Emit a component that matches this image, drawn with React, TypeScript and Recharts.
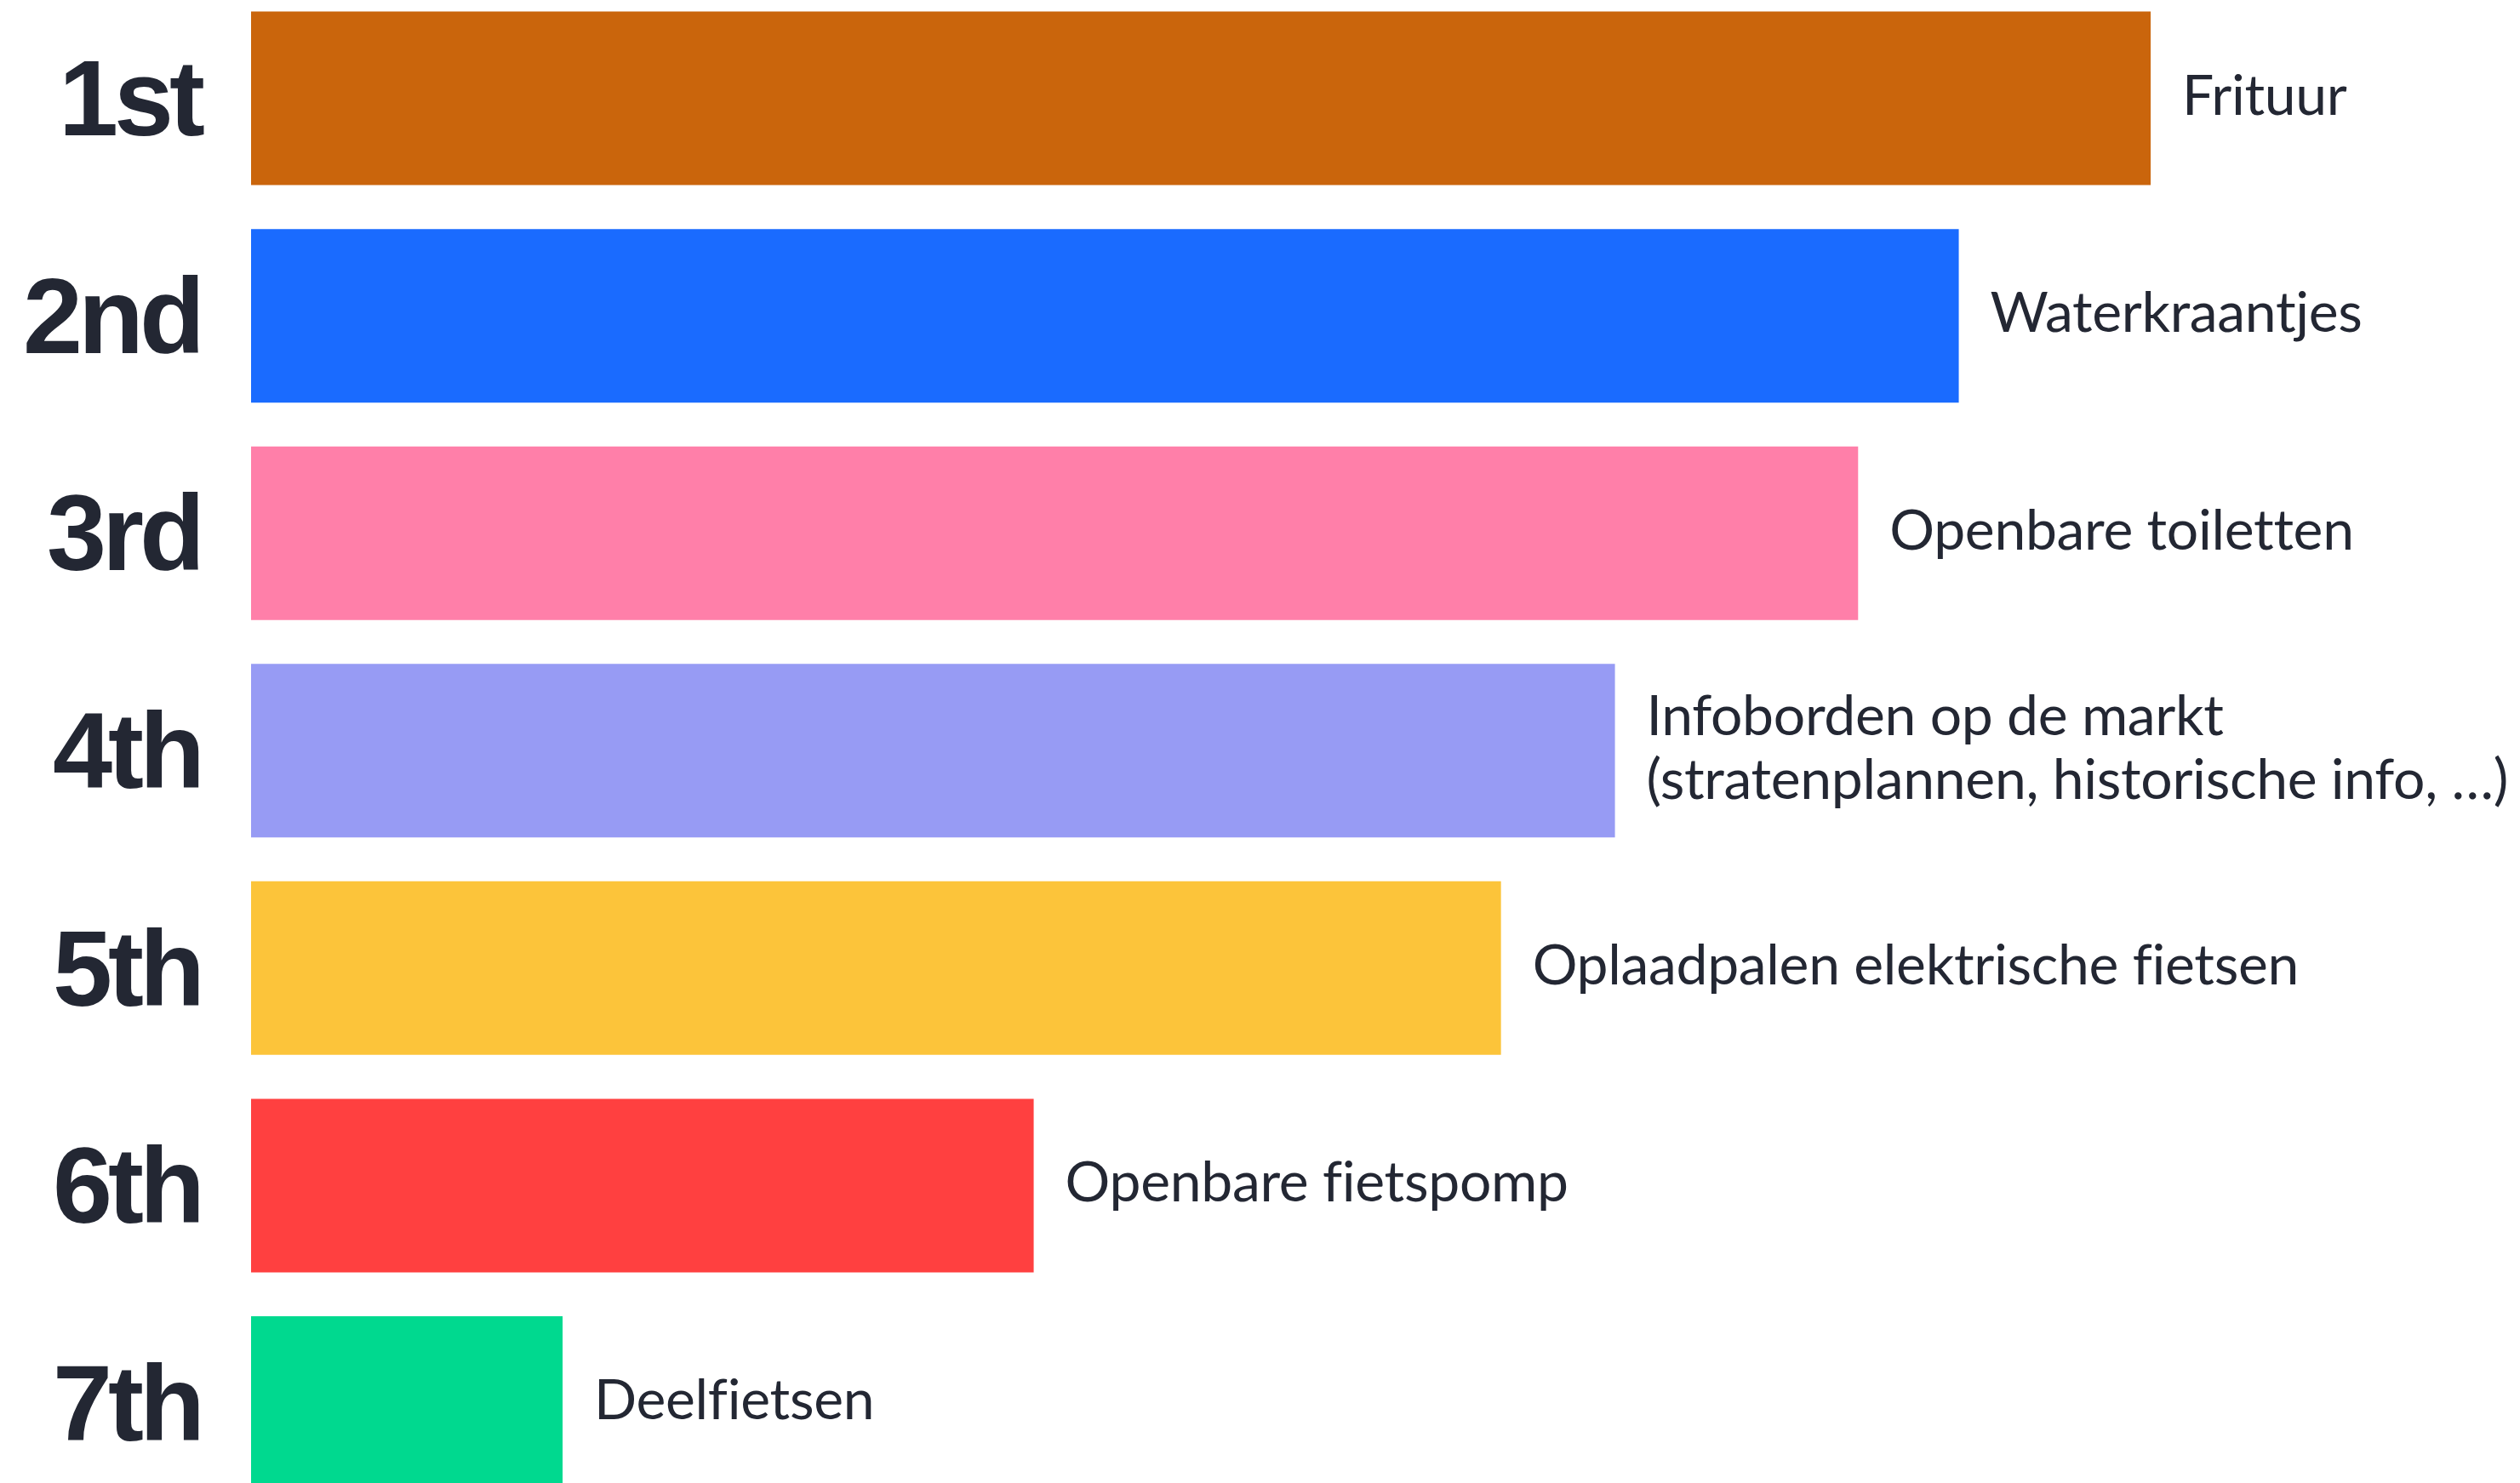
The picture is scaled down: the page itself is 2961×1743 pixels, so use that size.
import { Bar, BarChart, Cell, LabelList, XAxis, YAxis } from 'recharts';

const ranks = ['1st', '2nd', '3rd', '4th', '5th', '6th', '7th'];

const options = [
  ['Frituur'],
  ['Waterkraantjes'],
  ['Openbare toiletten'],
  ['Infoborden op de markt', '(stratenplannen, historische info, \u2026)'],
  ['Oplaadpalen elektrische fietsen'],
  ['Openbare fietspomp'],
  ['Deelfietsen']
];

// score relative to the winner (1st = 100)
const scores = [100, 89.9, 84.6, 71.8, 65.8, 41.2, 16.4];

const colors = ['#CA650C', '#1A6BFF', '#FF7FA9', '#979BF4', '#FCC43A', '#FF4040', '#00D98F'];

const data = ranks.map((rank, i) => ({
  rank,
  label: options[i],
  score: scores[i]
}));

const TEXT = '#232733';

const RankTick = (props: any) => {
  const { x, y, payload } = props;
  return (
    <text
      x={x - 51}
      y={y}
      textAnchor="end"
      dominantBaseline="central"
      fontFamily="'Liberation Sans', Arial, sans-serif"
      fontWeight={700}
      fontSize={126}
      letterSpacing={-5}
      fill={TEXT}
    >
      {payload.value}
    </text>
  );
};

const OptionLabel = (props: any) => {
  const { x, y, width, height, index } = props;
  const lines: string[] = options[index];
  const lineH = 75;
  const cy = y + height / 2 - 7;
  const startY = cy - ((lines.length - 1) * lineH) / 2;
  const tx = x + width + 37;
  return (
    <text
      x={tx}
      y={startY}
      dominantBaseline="central"
      fontFamily="Lato, 'Noto Sans', sans-serif"
      fontSize={66}
      letterSpacing={-0.3}
      fill={TEXT}
    >
      {lines.map((line, j) => (
        <tspan key={j} x={tx} y={startY + j * lineH} dominantBaseline="central">
          {line}
        </tspan>
      ))}
    </text>
  );
};

const App = () => {
  return (
    <div style={{ position: 'absolute', left: 0, top: -12, background: '#fff' }}>
      <BarChart
        width={2961}
        height={1789}
        data={data}
        layout="vertical"
        barCategoryGap="10%"
        margin={{ top: 0, right: 434, bottom: 0, left: 0 }}
      >
        <XAxis type="number" domain={[0, 100]} hide />
        <YAxis
          type="category"
          dataKey="rank"
          width={295}
          axisLine={false}
          tickLine={false}
          tick={<RankTick />}
        />
        <Bar dataKey="score" isAnimationActive={false}>
          {data.map((d, i) => (
            <Cell key={d.rank} fill={colors[i]} />
          ))}
          <LabelList dataKey="score" content={<OptionLabel />} />
        </Bar>
      </BarChart>
    </div>
  );
};

export default App;
